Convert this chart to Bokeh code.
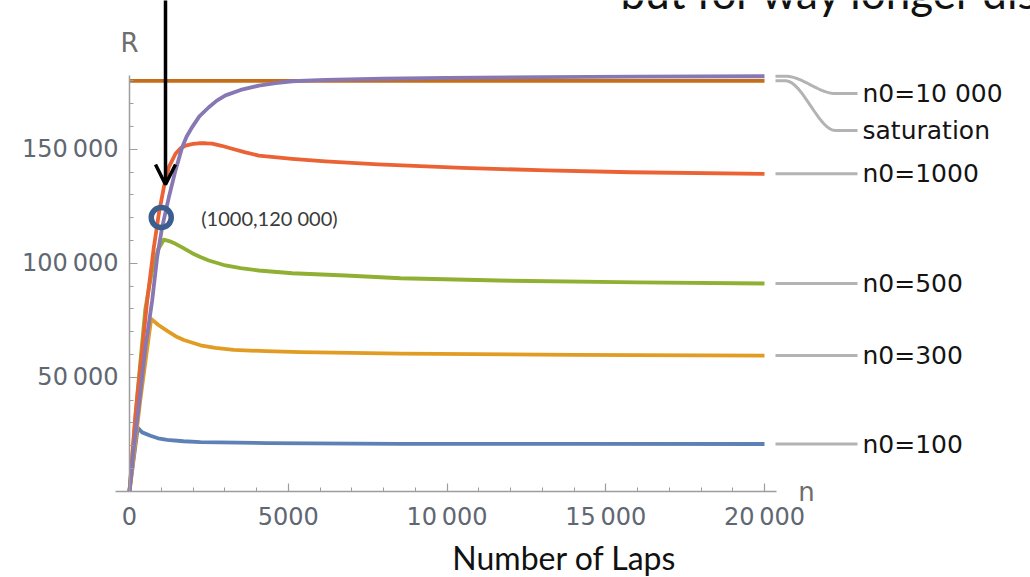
import numpy as np
from bokeh.plotting import figure
from bokeh.models import Range1d, FixedTicker, Arrow, OpenHead
from bokeh.core.properties import value
from bokeh.embed import file_html
from bokeh.resources import INLINE

# ---------------- data ----------------
laps_n100 = [0, 130, 261, 400, 661, 900, 1187, 1700, 2236, 4337, 8537, 14000, 20000]
r_n100 = [0, 14000, 27800, 25800, 24300, 23200, 22500, 21900, 21500, 21100, 20800, 20750, 20700]

laps_n300 = [0, 340, 683, 900, 1187, 1450, 1711, 2236, 2700, 3285, 4300, 5386, 8537, 14000, 20000]
r_n300 = [0, 40000, 75600, 73000, 70300, 68000, 66300, 64000, 62900, 62000, 61400, 61000, 60300, 59800, 59500]

laps_n500 = [0, 250, 500, 700, 900, 1080, 1250, 1449, 1700, 1974, 2230, 2499, 3024, 3500, 4073, 5124, 6803, 8537, 12000, 16000, 20000]
r_n500 = [0, 43000, 80000, 96000, 106000, 110300, 109700, 108500, 106600, 104400, 102700, 101200, 99000, 97800, 96800, 95600, 94600, 93400, 92300, 91600, 91100]

laps_n1000 = [0, 190, 400, 557, 767, 924, 1081, 1239, 1449, 1600, 1764, 2000, 2184, 2400, 2604, 2900, 3234, 3650, 4073, 5124, 6173, 7830, 10480, 13130, 15780, 20000]
r_n1000 = [0, 34000, 62000, 83600, 107000, 121700, 133300, 142100, 148000, 150300, 151600, 152300, 152600, 152600, 152400, 151500, 150200, 148600, 147200, 145800, 144700, 143300, 141800, 140700, 139900, 139200]

laps_n10000 = [0, 136, 300, 504, 714, 871, 1029, 1239, 1449, 1659, 1800, 1974, 2200, 2499, 2750, 3024, 3500, 4073, 4600, 5124, 6173, 8000, 10000, 13000, 16000, 20000]
r_n10000 = [0, 19300, 38000, 63200, 83600, 102600, 115800, 128900, 140700, 150900, 155600, 159700, 164400, 168400, 171300, 173600, 176000, 177900, 179000, 179800, 180400, 180900, 181300, 181600, 181800, 182000]

laps_sat = [0, 20000]
r_sat = [180000, 180000]

series_names = ["n0=100", "n0=300", "n0=500", "n0=1000", "n0=10 000", "saturation"]

marked_point = (1000, 120000)
marked_text = "(1000,120 000)"

x_ticks = [0, 5000, 10000, 15000, 20000]
x_tick_labels = ["0", "5000", "10\u2009000", "15\u2009000", "20\u2009000"]
x_minor = [1000, 2000, 3000, 4000, 6000, 7000, 8000, 9000, 11000, 12000, 13000, 14000,
           16000, 17000, 18000, 19000]
y_ticks = [50000, 100000, 150000]
y_tick_labels = ["50\u2009000", "100\u2009000", "150\u2009000"]
y_minor = [10000, 20000, 30000, 40000, 60000, 70000, 80000, 90000, 110000, 120000, 130000,
           140000, 160000, 170000, 180000]

# ---------------- layout constants ----------------
W, H = 1030, 577
PX_PER_X = 31.75 / 1000.0     # pixels per lap
PX_PER_Y = 114.0 / 50000.0    # pixels per R unit
X0_PX, Y0_PX = 129.0, 490.7   # pixel position of the origin
X_START = -X0_PX / PX_PER_X
X_END = (W - X0_PX) / PX_PER_X
Y_START = -(H - Y0_PX) / PX_PER_Y
Y_END = Y0_PX / PX_PER_Y

def px_x(px):
    return (px - X0_PX) / PX_PER_X

def px_y(py):
    return (Y0_PX - py) / PX_PER_Y

colors = ["#5E81B5", "#E19C24", "#8FB032", "#EB6235", "#8778B3", "#C56E1A"]

p = figure(width=W, height=H, output_backend="svg", toolbar_location=None,
           x_range=Range1d(X_START, X_END), y_range=Range1d(Y_START, Y_END),
           min_border_left=0, min_border_right=0, min_border_top=0,
           min_border_bottom=0)
p.outline_line_color = None
p.grid.visible = False
p.background_fill_color = "white"
p.border_fill_color = "white"

axis_col = "#9d9d9d"
lab_col = "#5f6872"
for ax in (p.xaxis[0], p.yaxis[0]):
    ax.fixed_location = 0
    ax.axis_line_color = axis_col
    ax.axis_line_width = 1.5
    ax.major_tick_line_color = axis_col
    ax.minor_tick_line_color = axis_col
    ax.major_tick_line_width = 1.2
    ax.minor_tick_line_width = 1.0
    ax.major_tick_in = 8
    ax.major_tick_out = 0
    ax.minor_tick_in = 4
    ax.minor_tick_out = 0
    ax.major_label_text_font = "DejaVu Sans"
    ax.major_label_text_font_size = "24px"
    ax.major_label_text_color = lab_col

p.xaxis.ticker = FixedTicker(ticks=x_ticks, minor_ticks=x_minor)
p.xaxis.major_label_overrides = {t: l for t, l in zip(x_ticks, x_tick_labels)}
p.xaxis.bounds = (px_x(115), px_x(776))
p.xaxis.major_label_standoff = 12

p.yaxis.ticker = FixedTicker(ticks=y_ticks, minor_ticks=y_minor)
p.yaxis.major_label_overrides = {t: l for t, l in zip(y_ticks, y_tick_labels)}
p.yaxis.bounds = (0, px_y(75))
p.yaxis.major_label_standoff = 11

# curves
all_x = [laps_n100, laps_n300, laps_n500, laps_n1000, laps_sat, laps_n10000]
all_y = [r_n100, r_n300, r_n500, r_n1000, r_sat, r_n10000]
cols = [colors[0], colors[1], colors[2], colors[3], colors[5], colors[4]]
for xs, ys, c in zip(all_x, all_y, cols):
    p.line(xs, ys, line_color=c, line_width=3.8, line_join="round")

# leader lines and labels on the right
LEAD_X0 = px_x(775)
LEAD_X1 = px_x(857)
TEXT_X = px_x(862)
end_vals = [r_n100[-1], r_n300[-1], r_n500[-1], r_n1000[-1], r_n10000[-1], r_sat[-1]]
label_vals = [r_n100[-1], r_n300[-1], r_n500[-1], r_n1000[-1], px_y(93), px_y(130)]

lead_xs, lead_ys = [], []
for y0, y1 in zip(end_vals, label_vals):
    if abs(y0 - y1) < 1000:
        lead_xs.append([LEAD_X0, LEAD_X1])
        lead_ys.append([y1, y1])
    else:
        t = np.linspace(0, 1, 30)
        s = t * t * (3 - 2 * t)
        xa, xb = px_x(785), px_x(835)
        xs = [LEAD_X0] + list(xa + (xb - xa) * t) + [LEAD_X1]
        ys = [y0] + list(y0 + (y1 - y0) * s) + [y1]
        lead_xs.append(xs)
        lead_ys.append(ys)
p.multi_line(lead_xs, lead_ys, line_color="#b3b3b3", line_width=3)

p.text(x=[TEXT_X] * len(label_vals), y=label_vals, text=series_names,
       text_font=value("DejaVu Sans"), text_font_size="25px", text_color="#141414",
       text_baseline="middle", text_align="left")

# marked point + annotation
p.scatter([marked_point[0]], [marked_point[1]], marker="circle", size=20,
          fill_color=None, line_color="#3b5e8e", line_width=5.5)
p.text(x=[marked_point[0]], y=[marked_point[1]], text=[marked_text], x_offset=40,
       text_font=value("Lato"), text_font_size="20px", text_color="#3a3a3a",
       text_baseline="middle", text_align="left")

# arrow pointing at the point
arrow_x = px_x(165)
p.add_layout(Arrow(end=OpenHead(size=20, line_width=3.5, line_color="black"),
                   x_start=arrow_x, y_start=Y_END + 5000, x_end=arrow_x, y_end=px_y(184),
                   line_width=3.5, line_color="black"))

# axis names
p.text(x=[0], y=[px_y(42)], text=["R"], text_font=value("DejaVu Sans"),
       text_font_size="26px", text_color="#6e6e6e", text_align="center",
       text_baseline="middle")
p.text(x=[px_x(806)], y=[px_y(491)], text=["n"], text_font=value("DejaVu Sans"),
       text_font_size="26px", text_color="#6e6e6e", text_align="center",
       text_baseline="middle")
p.text(x=[px_x(564)], y=[px_y(557)], text=["Number of Laps"], text_font=value("Lato"),
       text_font_size="32px", text_color="#111111", text_align="center",
       text_baseline="middle")

# clipped slide text at the very top
p.text(x=[px_x(620)], y=[px_y(17)], text=["but for way longer distances"],
       text_font=value("Lato"), text_font_size="44px", text_color="#111111",
       text_align="left", text_baseline="bottom")

open("out.html", "w").write(file_html(p, INLINE))
